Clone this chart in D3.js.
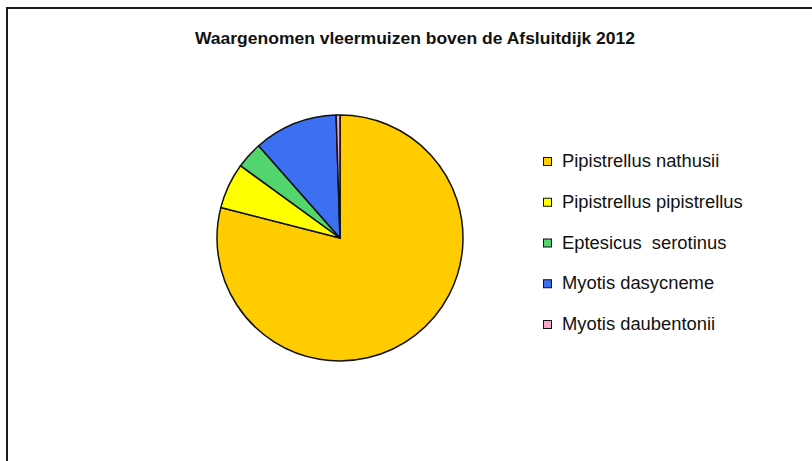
<!DOCTYPE html>
<html>
<head>
<meta charset="utf-8">
<script src="https://cdn.jsdelivr.net/npm/d3@7"></script>
<style>
    body { margin: 0; background: #fff; }
    svg { display: block; }
</style>
</head>
<body>
<div id="vb-chart"></div>
<script>
// Chart data
var chartTitle = "Waargenomen vleermuizen boven de Afsluitdijk 2012";
var species = ["Pipistrellus nathusii", "Pipistrellus pipistrellus", "Eptesicus  serotinus",
               "Myotis dasycneme", "Myotis daubentonii"];
var counts = [158, 12, 7, 22, 1];
var sliceColors = ["#ffcc00", "#ffff00", "#52d56c", "#3c6ff2", "#fba6c9"];

(function(d3) {

    /**
     * Draw the pie chart with its legend.
     */
    var width = 812, height = 461;
    var cx = 340, cy = 238, radius = 123;

    var svg = d3.select("#vb-chart")
        .append("svg")
            .attr("width", width)
            .attr("height", height);

    // frame (only top and left edges visible)
    svg.append("path")
        .attr("d", "M7,461V8H812")
        .attr("fill", "none")
        .attr("stroke", "#1a1a1a")
        .attr("stroke-width", 2);

    // title (the source image is a bit stretched sideways)
    svg.append("text")
        .attr("x", 415)
        .attr("y", 44)
        .attr("text-anchor", "middle")
        .attr("font-family", "Liberation Sans, Arial, sans-serif")
        .attr("font-weight", "bold")
        .attr("font-size", 16.5)
        .attr("fill", "#111")
        .attr("textLength", 440)
        .attr("lengthAdjust", "spacingAndGlyphs")
        .text(chartTitle);

    var pie = d3.pie().sort(null).value(function(d) { return d; });
    var arc = d3.arc().innerRadius(0).outerRadius(radius);
    var color = d3.scaleOrdinal().domain(species).range(sliceColors);

    var g = svg.append("g")
        .attr("transform", "translate(" + cx + "," + cy + ")");

    g.selectAll("path")
        .data(pie(counts))
        .enter().append("path")
            .attr("d", arc)
            .attr("fill", function(d, i) { return color(species[i]); })
            .attr("stroke", "#111")
            .attr("stroke-width", 1.5)
            .attr("stroke-linejoin", "round");

    // legend
    var y = d3.scalePoint().domain(species).range([161, 324]);

    var item = svg.append("g")
        .selectAll("g")
        .data(species)
        .enter().append("g")
            .attr("transform", function(d) { return "translate(543," + y(d) + ")"; });

    item.append("rect")
        .attr("x", 0.5)
        .attr("y", -3.5)
        .attr("width", 8)
        .attr("height", 8)
        .attr("fill", function(d) { return color(d); })
        .attr("stroke", "#111")
        .attr("stroke-width", 1);

    item.append("text")
        .attr("transform", "translate(19,6) scale(1.05,1)")
        .attr("font-family", "Liberation Sans, Arial, sans-serif")
        .attr("font-size", 17.5)
        .attr("fill", "#111")
        .style("white-space", "pre")
        .text(function(d) { return d; });

})(d3);
</script>
</body>
</html>
